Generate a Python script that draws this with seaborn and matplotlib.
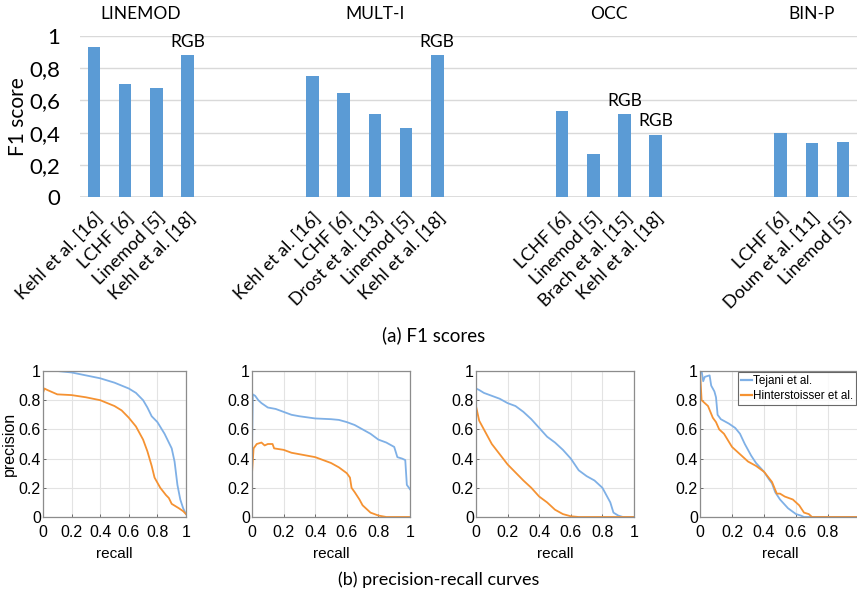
import matplotlib
matplotlib.use("Agg")
import matplotlib.pyplot as plt
import matplotlib.transforms as mtransforms
import seaborn as sns
import pandas as pd

# ---------------- data: F1 scores ----------------
groups = ["LINEMOD", "MULT-I", "OCC", "BIN-P"]
linemod_methods = ["Kehl et al. [16]", "LCHF [6]", "Linemod [5]", "Kehl et al. [18]"]
linemod_f1 = [0.93, 0.70, 0.68, 0.88]
linemod_rgb = [False, False, False, True]
multi_methods = ["Kehl et al. [16]", "LCHF [6]", "Drost et al. [13]", "Linemod [5]", "Kehl et al. [18]"]
multi_f1 = [0.75, 0.645, 0.515, 0.43, 0.88]
multi_rgb = [False, False, False, False, True]
occ_methods = ["LCHF [6]", "Linemod [5]", "Brach et al. [15]", "Kehl et al. [18]"]
occ_f1 = [0.535, 0.265, 0.515, 0.385]
occ_rgb = [False, False, True, True]
binp_methods = ["LCHF [6]", "Doum et al. [11]", "Linemod [5]"]
binp_f1 = [0.395, 0.335, 0.34]
binp_rgb = [False, False, False]
yticks_f1 = [0, 0.2, 0.4, 0.6, 0.8, 1.0]
yticklabels_f1 = ["0", "0,2", "0,4", "0,6", "0,8", "1"]

# ---------------- data: precision-recall curves ----------------
series_names = ["Tejani et al.", "Hinterstoisser et al."]

lm_tej_r = [0.0, 0.1, 0.2, 0.3, 0.4, 0.5, 0.6, 0.65, 0.7, 0.73, 0.76, 0.8, 0.85, 0.9, 0.92, 0.94, 0.96, 0.98, 1.0]
lm_tej_p = [1.0, 1.0, 0.99, 0.97, 0.95, 0.92, 0.88, 0.85, 0.80, 0.75, 0.69, 0.65, 0.57, 0.47, 0.38, 0.22, 0.12, 0.06, 0.02]
lm_hin_r = [0.0, 0.0, 0.01, 0.03, 0.1, 0.2, 0.3, 0.4, 0.5, 0.55, 0.6, 0.65, 0.7, 0.73, 0.76, 0.78, 0.82, 0.86, 0.88, 0.9, 0.95, 0.98, 1.0]
lm_hin_p = [0.0, 0.85, 0.88, 0.87, 0.84, 0.835, 0.82, 0.80, 0.76, 0.73, 0.68, 0.62, 0.53, 0.45, 0.35, 0.27, 0.20, 0.15, 0.13, 0.09, 0.06, 0.04, 0.02]

mi_tej_r = [0.0, 0.005, 0.02, 0.04, 0.06, 0.1, 0.15, 0.2, 0.25, 0.3, 0.4, 0.5, 0.55, 0.6, 0.65, 0.7, 0.75, 0.8, 0.85, 0.9, 0.92, 0.95, 0.97, 0.98, 1.0]
mi_tej_p = [0.45, 0.84, 0.83, 0.80, 0.78, 0.75, 0.74, 0.72, 0.70, 0.69, 0.675, 0.67, 0.665, 0.65, 0.63, 0.60, 0.57, 0.53, 0.51, 0.48, 0.41, 0.40, 0.39, 0.22, 0.19]
mi_hin_r = [0.0, 0.0, 0.01, 0.03, 0.06, 0.08, 0.1, 0.13, 0.14, 0.2, 0.25, 0.3, 0.4, 0.5, 0.55, 0.6, 0.62, 0.63, 0.65, 0.68, 0.7, 0.75, 0.8, 0.85, 1.0]
mi_hin_p = [0.0, 0.30, 0.47, 0.50, 0.51, 0.49, 0.50, 0.50, 0.47, 0.46, 0.44, 0.43, 0.41, 0.37, 0.34, 0.30, 0.27, 0.20, 0.17, 0.12, 0.08, 0.03, 0.01, 0.0, 0.0]

oc_tej_r = [0.0, 0.0, 0.02, 0.05, 0.1, 0.15, 0.2, 0.25, 0.3, 0.35, 0.4, 0.45, 0.5, 0.55, 0.6, 0.65, 0.7, 0.75, 0.8, 0.85, 0.87, 0.9, 0.93, 1.0]
oc_tej_p = [0.75, 0.88, 0.87, 0.85, 0.83, 0.81, 0.78, 0.76, 0.72, 0.67, 0.61, 0.55, 0.51, 0.46, 0.40, 0.32, 0.28, 0.25, 0.20, 0.10, 0.03, 0.01, 0.0, 0.0]
oc_hin_r = [0.0, 0.0, 0.02, 0.05, 0.1, 0.15, 0.2, 0.3, 0.35, 0.4, 0.45, 0.5, 0.55, 0.6, 0.65, 1.0]
oc_hin_p = [0.0, 0.76, 0.66, 0.60, 0.50, 0.43, 0.36, 0.25, 0.20, 0.14, 0.10, 0.05, 0.02, 0.005, 0.0, 0.0]

bp_tej_r = [0.0, 0.01, 0.02, 0.03, 0.06, 0.07, 0.09, 0.1, 0.11, 0.13, 0.18, 0.22, 0.25, 0.28, 0.32, 0.35, 0.4, 0.43, 0.45, 0.47, 0.5, 0.55, 0.6, 0.63, 0.65, 1.0]
bp_tej_p = [1.0, 1.0, 0.93, 0.96, 0.97, 0.90, 0.86, 0.82, 0.70, 0.67, 0.64, 0.61, 0.57, 0.50, 0.42, 0.37, 0.31, 0.26, 0.23, 0.17, 0.12, 0.06, 0.02, 0.01, 0.0, 0.0]
bp_hin_r = [0.0, 0.01, 0.03, 0.05, 0.08, 0.1, 0.12, 0.15, 0.2, 0.25, 0.3, 0.35, 0.4, 0.45, 0.48, 0.5, 0.53, 0.58, 0.62, 0.65, 0.68, 0.7, 1.0]
bp_hin_p = [1.0, 0.80, 0.78, 0.76, 0.68, 0.65, 0.60, 0.57, 0.48, 0.43, 0.38, 0.35, 0.31, 0.24, 0.16, 0.16, 0.14, 0.12, 0.08, 0.03, 0.02, 0.0, 0.0]

pr_ticks = [0, 0.2, 0.4, 0.6, 0.8, 1.0]
pr_ticklabels = ["0", "0.2", "0.4", "0.6", "0.8", "1"]

# ---------------- styling ----------------
BAR_COLOR = "#5b9bd5"
TEJ_COLOR = "#7fb0e6"
HIN_COLOR = "#f59232"
FONT_TOP = ["Lato", "DejaVu Sans"]
FONT_BOT = ["Liberation Sans", "DejaVu Sans"]

W, H = 857, 592
fig = plt.figure(figsize=(W / 100, H / 100), dpi=100)


def px_rect(x0, y_top, x1, y_bot):
    return [x0 / W, (H - y_bot) / H, (x1 - x0) / W, (y_bot - y_top) / H]


# ---------------- top: bar chart ----------------
group_methods = [linemod_methods, multi_methods, occ_methods, binp_methods]
group_f1 = [linemod_f1, multi_f1, occ_f1, binp_f1]
group_rgb = [linemod_rgb, multi_rgb, occ_rgb, binp_rgb]
GAP = 3

rows, order, labels, centers = [], [], [], []
for gi, (g, ms, fs, rs) in enumerate(zip(groups, group_methods, group_f1, group_rgb)):
    start = len(order)
    for m, f, r in zip(ms, fs, rs):
        key = f"{g}|{m}"
        rows.append({"key": key, "score": f, "rgb": r})
        order.append(key)
        labels.append(m)
    centers.append((start + len(order) - 1) / 2)
    if gi < len(groups) - 1:
        for k in range(GAP):
            key = f"gap{gi}_{k}"
            order.append(key)
            labels.append("")
df_bar = pd.DataFrame(rows)

ax = fig.add_axes(px_rect(80, 36, 857, 197))
sns.barplot(data=df_bar, x="key", y="score", order=order, color=BAR_COLOR,
            width=0.4, saturation=1, ax=ax, linewidth=0)
ax.set_xlim(-0.45, 24.45)
ax.set_ylim(0, 1)
ax.set_yticks(yticks_f1)
ax.set_yticklabels(yticklabels_f1, fontsize=16, family=FONT_TOP)
ax.set_xticks(range(len(order)))
ax.set_xticklabels(labels, rotation=45, ha="right", rotation_mode="anchor",
                   fontsize=13, family=FONT_TOP)
ax.tick_params(axis="both", length=0)
ax.tick_params(axis="y", pad=14)
ax.tick_params(axis="x", pad=9)
for s in ax.spines.values():
    s.set_visible(False)
ax.grid(axis="y", color="#d9d9d9", linewidth=1)
ax.set_axisbelow(True)
ax.axhline(0, color="#d9d9d9", linewidth=1.2, zorder=0)
ax.set_xlabel("")
ax.set_ylabel("")
ax.text(-0.08, 0.5, "F1 score", transform=ax.transAxes, rotation=90,
        ha="center", va="center", fontsize=15, family=FONT_TOP)

trans = mtransforms.blended_transform_factory(ax.transData, ax.transAxes)
for g, c in zip(groups, centers):
    ax.text(c, 1.135, g, transform=trans, ha="center", va="center",
            fontsize=12.5, family=FONT_TOP)
for i, row in df_bar.iterrows():
    if row["rgb"]:
        ax.annotate("RGB", (order.index(row["key"]), row["score"]),
                    xytext=(0, 4), textcoords="offset points",
                    ha="center", va="bottom", fontsize=12.5, family=FONT_TOP)

fig.text(434 / W, 1 - 335 / H, "(a) F1 scores", ha="center", va="center",
         fontsize=13.5, family=FONT_TOP)

# ---------------- bottom: precision-recall curves ----------------
panels = [
    ((43, 186), lm_tej_r, lm_tej_p, lm_hin_r, lm_hin_p),
    ((252, 410), mi_tej_r, mi_tej_p, mi_hin_r, mi_hin_p),
    ((476, 634), oc_tej_r, oc_tej_p, oc_hin_r, oc_hin_p),
    ((700, 860), bp_tej_r, bp_tej_p, bp_hin_r, bp_hin_p),
]
for pi, ((x0, x1), tr, tp, hr, hp) in enumerate(panels):
    axp = fig.add_axes(px_rect(x0, 371, x1, 517))
    d = pd.concat([
        pd.DataFrame({"recall": tr, "precision": tp, "method": series_names[0]}),
        pd.DataFrame({"recall": hr, "precision": hp, "method": series_names[1]}),
    ], ignore_index=True)
    last = pi == len(panels) - 1
    sns.lineplot(data=d, x="recall", y="precision", hue="method",
                 palette=[TEJ_COLOR, HIN_COLOR], sort=False, estimator=None,
                 linewidth=1.3, ax=axp, legend=last)
    axp.set_xlim(0, 1)
    axp.set_ylim(0, 1)
    axp.set_xticks(pr_ticks)
    axp.set_yticks(pr_ticks)
    axp.set_xticklabels(pr_ticklabels, fontsize=11.5, family=FONT_BOT)
    axp.set_yticklabels(pr_ticklabels, fontsize=11.5, family=FONT_BOT)
    axp.tick_params(axis="both", direction="in", length=2.5, width=0.6,
                    color="#555555")
    axp.tick_params(axis="x", pad=5.5)
    axp.tick_params(axis="y", pad=1.5)
    axp.grid(True, color="#e3e3e3", linewidth=0.8)
    axp.set_axisbelow(True)
    for s in axp.spines.values():
        s.set_color("#8c8c8c")
        s.set_linewidth(0.9)
    axp.set_xlabel("recall", fontsize=11, family=FONT_BOT, labelpad=5)
    if pi == 0:
        axp.set_ylabel("precision", fontsize=11.5, family=FONT_BOT, labelpad=1)
    else:
        axp.set_ylabel("")
    if last:
        leg = axp.legend(loc="upper right", bbox_to_anchor=(0.975, 0.99),
                         prop={"family": FONT_BOT, "size": 8.4},
                         handlelength=0.9, handletextpad=0.1,
                         borderpad=0.25, labelspacing=0.25, borderaxespad=0,
                         frameon=True, fancybox=False, title=None)
        leg.get_frame().set_edgecolor("#444444")
        leg.get_frame().set_linewidth(0.8)
        for line in leg.get_lines():
            line.set_linewidth(1.6)

fig.text(439 / W, 1 - 580 / H, "(b) precision-recall curves", ha="center",
         va="center", fontsize=13, family=FONT_TOP)

fig.savefig("out.png", dpi=100)
